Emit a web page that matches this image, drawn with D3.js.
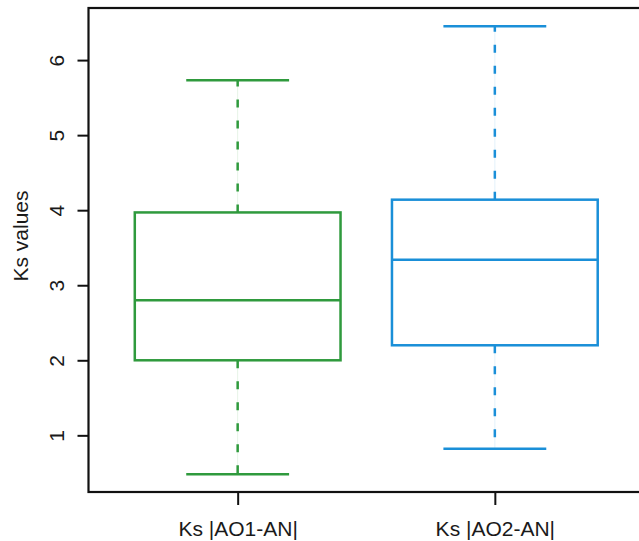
<!DOCTYPE html>
<html>
<head>
<meta charset="utf-8">
<script src="https://d3js.org/d3.v7.min.js"></script>
<style>
  body { margin: 0; background: #fff; }
  text { font-family: "Liberation Sans", Arial, sans-serif; fill: #1a1a1a; }
</style>
</head>
<body>
<script>
// box plot values
var groups   = ["Ks |AO1-AN|", "Ks |AO2-AN|"];
var lowWhisk = [0.48, 0.82];
var q1       = [2.00, 2.20];
var medians  = [2.80, 3.34];
var q3       = [3.97, 4.14];
var highWhisk= [5.73, 6.45];
var colors   = ["#2f9a3d", "#1a8fd8"];
var yTicks   = [1, 2, 3, 4, 5, 6];

var W = 639, H = 541;
var plot = {left: 88.5, right: 644, top: 8, bottom: 492};

var svg = d3.select("body").append("svg")
    .attr("width", W)
    .attr("height", H);

var y = d3.scaleLinear().domain([0.245, 6.694]).range([plot.bottom, plot.top]);
var x = d3.scaleLinear().domain([0.42, 2.58]).range([plot.left, plot.right]);

var boxes = groups.map(function(g, i) {
    return {name: g, pos: i + 1, lo: lowWhisk[i], q1: q1[i], med: medians[i],
            q3: q3[i], hi: highWhisk[i], color: colors[i]};
});

var boxW = 0.4;   // half width in x units
var capW = 0.2;

var g = svg.append("g");

boxes.forEach(function(d) {
    var cx = x(d.pos);
    var b = g.append("g").attr("stroke", d.color).attr("fill", "none");

    // dashed whiskers, drawn from the box out to the cap
    [[d.q1, d.lo], [d.q3, d.hi]].forEach(function(w) {
        b.append("line")
            .attr("x1", cx).attr("x2", cx)
            .attr("y1", y(w[0])).attr("y2", y(w[1]))
            .attr("stroke-width", 1)
            .attr("stroke-opacity", 0.12);
        b.append("line")
            .attr("x1", cx).attr("x2", cx)
            .attr("y1", y(w[0])).attr("y2", y(w[1]))
            .attr("stroke-width", 2.5)
            .attr("stroke-dasharray", "8,13");
    });

    // caps
    [d.lo, d.hi].forEach(function(v) {
        b.append("line")
            .attr("x1", x(d.pos - capW)).attr("x2", x(d.pos + capW))
            .attr("y1", y(v)).attr("y2", y(v))
            .attr("stroke-width", 2.5);
    });

    // box
    b.append("rect")
        .attr("x", x(d.pos - boxW))
        .attr("y", y(d.q3))
        .attr("width", x(d.pos + boxW) - x(d.pos - boxW))
        .attr("height", y(d.q1) - y(d.q3))
        .attr("fill", "#fff")
        .attr("stroke-width", 2.5);

    // median
    b.append("line")
        .attr("x1", x(d.pos - boxW)).attr("x2", x(d.pos + boxW))
        .attr("y1", y(d.med)).attr("y2", y(d.med))
        .attr("stroke-width", 2.5);
});

// frame
svg.append("rect")
    .attr("x", plot.left).attr("y", plot.top)
    .attr("width", plot.right - plot.left)
    .attr("height", plot.bottom - plot.top)
    .attr("fill", "none")
    .attr("stroke", "#111")
    .attr("stroke-width", 2.2);

// y axis
var yAxis = svg.append("g")
    .attr("transform", "translate(" + plot.left + ",0)")
    .call(d3.axisLeft(y).tickValues(yTicks).tickSize(11).tickFormat(d3.format("d")));
yAxis.select(".domain").remove();
yAxis.selectAll(".tick line").attr("stroke", "#111").attr("stroke-width", 2);
yAxis.selectAll(".tick text")
    .attr("x", 0).attr("dy", 0)
    .attr("transform", "translate(-25,0) rotate(-90)")
    .attr("text-anchor", "middle")
    .style("font-size", "21px")
    .style("font-family", "'Liberation Sans', Arial, sans-serif")
    .attr("fill", "#1a1a1a");

// x axis
var xAxis = svg.append("g")
    .attr("transform", "translate(0," + plot.bottom + ")")
    .call(d3.axisBottom(x).tickValues([1, 2]).tickSize(13)
        .tickFormat(function(d) { return groups[d - 1]; }));
xAxis.select(".domain").remove();
xAxis.selectAll(".tick line").attr("stroke", "#111").attr("stroke-width", 2);
xAxis.selectAll(".tick text")
    .attr("y", 44).attr("dy", 0)
    .style("font-size", "21px")
    .style("font-family", "'Liberation Sans', Arial, sans-serif")
    .attr("fill", "#1a1a1a");

// y label
svg.append("text")
    .attr("transform", "translate(28," + 236 + ") rotate(-90)")
    .attr("text-anchor", "middle")
    .style("font-size", "21px")
    .text("Ks values");
</script>
</body>
</html>
